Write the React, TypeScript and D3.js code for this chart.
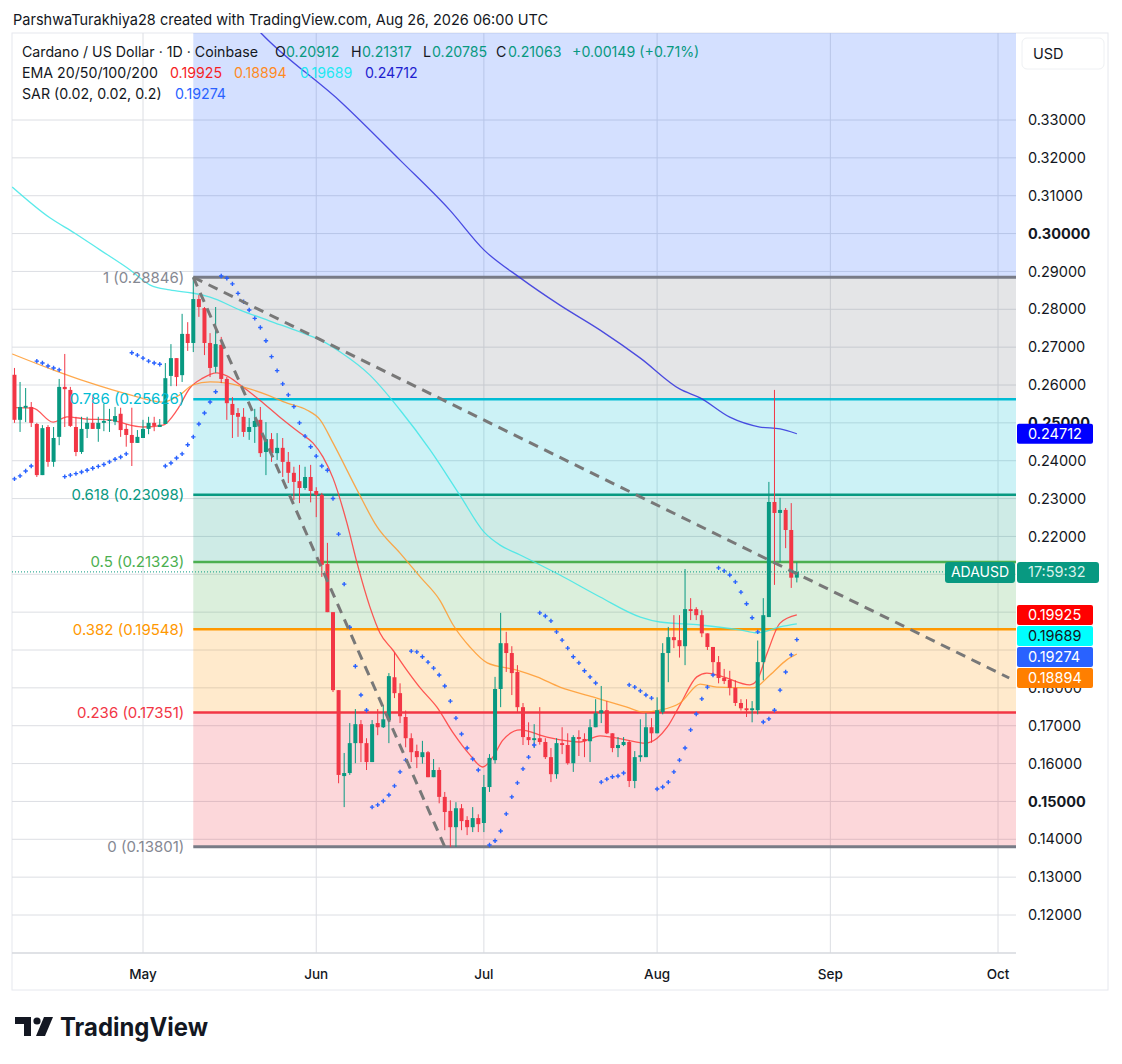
import * as d3 from "d3"
import React from "react"

// daily candles, first one on Apr 8 2026
const startDate = "2026-04-08"
// prettier-ignore
const opens = [
  0.2627, 0.2508, 0.2540, 0.2542, 0.2497, 0.2362, 0.2489, 0.2397, 0.2463, 0.2595,
  0.2587, 0.2489, 0.2423, 0.2484, 0.2500, 0.2484, 0.2500, 0.2505, 0.2503, 0.2524,
  0.2484, 0.2468, 0.2447, 0.2460, 0.2484, 0.2500, 0.2489, 0.2497, 0.2624, 0.2671,
  0.2626, 0.2735, 0.2711, 0.2827, 0.2803, 0.2711, 0.2648, 0.2706, 0.2616, 0.2550,
  0.2526, 0.2516, 0.2476, 0.2489, 0.2508, 0.2423, 0.2457, 0.2420, 0.2434, 0.2397,
  0.2368, 0.2346, 0.2328, 0.2357, 0.2320, 0.2310, 0.2127, 0.2000, 0.1794, 0.1567,
  0.1575, 0.1654, 0.1704, 0.1654, 0.1604, 0.1707, 0.1696, 0.1715, 0.1828, 0.1786,
  0.1723, 0.1667, 0.1633, 0.1617, 0.1630, 0.1564, 0.1583, 0.1512, 0.1475, 0.1432,
  0.1482, 0.1451, 0.1432, 0.1456, 0.1443, 0.1538, 0.1609, 0.1797, 0.1918, 0.1892,
  0.1842, 0.1749, 0.1670, 0.1662, 0.1667, 0.1657, 0.1617, 0.1572, 0.1654, 0.1649,
  0.1601, 0.1670, 0.1665, 0.1659, 0.1696, 0.1733, 0.1741, 0.1680, 0.1641, 0.1649,
  0.1657, 0.1554, 0.1617, 0.1617, 0.1696, 0.1680, 0.1736, 0.1892, 0.1934, 0.1926,
  0.1910, 0.2008, 0.2008, 0.1992, 0.1944, 0.1908, 0.1868, 0.1826, 0.1821, 0.1800,
  0.1760, 0.1746, 0.1741, 0.1741, 0.1868, 0.1987, 0.2291, 0.2262, 0.2270, 0.2217,
  0.20912,
]
// prettier-ignore
const highs = [
  0.2645, 0.2608, 0.2592, 0.2555, 0.2500, 0.2494, 0.2494, 0.2489, 0.2616, 0.2682,
  0.2595, 0.2516, 0.2516, 0.2516, 0.2574, 0.2516, 0.2550, 0.2537, 0.2542, 0.2540,
  0.2497, 0.2540, 0.2481, 0.2508, 0.2516, 0.2516, 0.2510, 0.2658, 0.2708, 0.2671,
  0.2788, 0.2766, 0.28846, 0.2838, 0.2806, 0.2737, 0.2806, 0.2727, 0.2621, 0.2568,
  0.2539, 0.2539, 0.2513, 0.2537, 0.2542, 0.2502, 0.2473, 0.2473, 0.2460, 0.2423,
  0.2384, 0.2389, 0.2384, 0.2389, 0.2330, 0.2315, 0.2183, 0.2000, 0.1794, 0.1628,
  0.1707, 0.1744, 0.1715, 0.1667, 0.1715, 0.1744, 0.1754, 0.1839, 0.1894, 0.1812,
  0.1740, 0.1680, 0.1650, 0.1660, 0.1633, 0.1612, 0.1590, 0.1525, 0.1503, 0.1498,
  0.1493, 0.1461, 0.1485, 0.1466, 0.1570, 0.1625, 0.1829, 0.1998, 0.1948, 0.1910,
  0.1860, 0.1760, 0.1709, 0.1704, 0.1749, 0.1667, 0.1641, 0.1667, 0.1696, 0.1680,
  0.1675, 0.1688, 0.1680, 0.1717, 0.1770, 0.1805, 0.1765, 0.1680, 0.1670, 0.1670,
  0.1662, 0.1633, 0.1717, 0.1733, 0.1720, 0.1775, 0.1918, 0.1961, 0.1992, 0.1992,
  0.2114, 0.2037, 0.2013, 0.2005, 0.1944, 0.1908, 0.1884, 0.1850, 0.1845, 0.1820,
  0.1770, 0.1770, 0.1765, 0.1925, 0.2037, 0.2344, 0.2587, 0.2302, 0.2275, 0.2288,
  0.21317,
]
// prettier-ignore
const lows = [
  0.2500, 0.2476, 0.2502, 0.2489, 0.2357, 0.2362, 0.2384, 0.2384, 0.2441, 0.2489,
  0.2489, 0.2412, 0.2418, 0.2460, 0.2484, 0.2450, 0.2478, 0.2476, 0.2494, 0.2463,
  0.2437, 0.2386, 0.2447, 0.2460, 0.2470, 0.2478, 0.2489, 0.2497, 0.2597, 0.2597,
  0.2608, 0.2690, 0.2687, 0.2780, 0.2679, 0.2621, 0.2632, 0.2605, 0.2508, 0.2460,
  0.2463, 0.2463, 0.2455, 0.2447, 0.2410, 0.2362, 0.2397, 0.2402, 0.2357, 0.2341,
  0.2296, 0.2288, 0.2323, 0.2290, 0.2251, 0.2093, 0.2000, 0.1789, 0.1548, 0.1485,
  0.1570, 0.1601, 0.1604, 0.1583, 0.1604, 0.1675, 0.1694, 0.1654, 0.1773, 0.1707,
  0.1643, 0.1604, 0.1588, 0.1600, 0.1564, 0.1564, 0.1495, 0.1424, 0.1380, 0.1380,
  0.1424, 0.1411, 0.1419, 0.1419, 0.1419, 0.1525, 0.1600, 0.1749, 0.1842, 0.1781,
  0.1736, 0.1649, 0.1649, 0.1641, 0.1650, 0.1612, 0.1551, 0.1560, 0.1625, 0.1597,
  0.1578, 0.1620, 0.1617, 0.1604, 0.1696, 0.1707, 0.1678, 0.1630, 0.1617, 0.1646,
  0.1538, 0.1535, 0.1605, 0.1617, 0.1655, 0.1680, 0.1730, 0.1815, 0.1905, 0.1880,
  0.1860, 0.1979, 0.1979, 0.1934, 0.1900, 0.1839, 0.1812, 0.1810, 0.1780, 0.1752,
  0.1740, 0.1723, 0.1709, 0.1730, 0.1820, 0.1987, 0.2072, 0.2132, 0.2169, 0.2064,
  0.20785,
]
// prettier-ignore
const closes = [
  0.2508, 0.2542, 0.2545, 0.2500, 0.2362, 0.2486, 0.2397, 0.2460, 0.2595, 0.2589,
  0.2492, 0.2423, 0.2484, 0.2500, 0.2484, 0.2500, 0.2505, 0.2508, 0.2518, 0.2481,
  0.2468, 0.2447, 0.2463, 0.2484, 0.2500, 0.2492, 0.2495, 0.2618, 0.2671, 0.2621,
  0.2735, 0.2711, 0.2827, 0.2806, 0.2711, 0.2645, 0.2708, 0.2616, 0.2552, 0.2521,
  0.2516, 0.2476, 0.2489, 0.2505, 0.2420, 0.2457, 0.2420, 0.2434, 0.2397, 0.2368,
  0.2344, 0.2328, 0.2357, 0.2320, 0.2310, 0.2125, 0.2000, 0.1794, 0.1570, 0.1575,
  0.1654, 0.1704, 0.1654, 0.1604, 0.1704, 0.1696, 0.1717, 0.1831, 0.1786, 0.1725,
  0.1667, 0.1630, 0.1617, 0.1630, 0.1564, 0.1583, 0.1512, 0.1472, 0.1432, 0.1482,
  0.1448, 0.1432, 0.1456, 0.1440, 0.1538, 0.1615, 0.1797, 0.1918, 0.1892, 0.1839,
  0.1749, 0.1670, 0.1662, 0.1667, 0.1657, 0.1617, 0.1572, 0.1654, 0.1649, 0.1601,
  0.1670, 0.1665, 0.1659, 0.1696, 0.1733, 0.1741, 0.1680, 0.1641, 0.1649, 0.1657,
  0.1554, 0.1617, 0.1622, 0.1696, 0.1680, 0.1741, 0.1892, 0.1934, 0.1926, 0.1910,
  0.2008, 0.2003, 0.1992, 0.1944, 0.1908, 0.1868, 0.1826, 0.1818, 0.1800, 0.1760,
  0.1746, 0.1741, 0.1746, 0.1868, 0.1992, 0.2291, 0.2262, 0.2270, 0.2217, 0.2091,
  0.21063,
]
// parabolic SAR, one per candle (null = no dot)
// prettier-ignore
const sar = [
  0.2352, 0.2360, 0.2373, 0.2386, 0.2663, 0.2658, 0.2650, 0.2645, 0.2640, 0.2358,
  0.2362, 0.2366, 0.2370, 0.2375, 0.2380, 0.2385, 0.2390, 0.2397, 0.2404, 0.2410,
  0.2418, 0.2685, 0.2679, 0.2671, 0.2663, 0.2658, 0.2655, 0.2386, 0.2394, 0.2407,
  0.2418, 0.2442, 0.2463, 0.2497, 0.2526, 0.2555, 0.2582, 0.2888, 0.2882, 0.2867,
  0.2842, 0.2820, 0.2798, 0.2776, 0.2752, 0.2717, 0.2675, 0.2638, 0.2603, 0.2574,
  0.2543, 0.2500, 0.2465, 0.2437, 0.2412, 0.2386, 0.2375, 0.2300, 0.2206, 0.2074,
  0.1960, 0.1857, 0.1781, 0.1741, 0.1485, 0.1491, 0.1501, 0.1517, 0.1541, 0.1578,
  0.1609, 0.1897, 0.1895, 0.1882, 0.1868, 0.1852, 0.1834, 0.1805, 0.1765, 0.1720,
  0.1678, 0.1641, 0.1612, 0.1583, null, 0.1385, 0.1396, 0.1422, 0.1467, 0.1512,
  0.1549, 0.1586, 0.1617, 0.1649, 0.1998, 0.1990, 0.1977, 0.1948, 0.1926, 0.1905,
  0.1882, 0.1866, 0.1845, 0.1829, 0.1813, 0.1551, 0.1559, 0.1565, 0.1567, 0.1575,
  0.1808, 0.1802, 0.1792, 0.1781, 0.1773, 0.1533, 0.1538, 0.1551, 0.1578, 0.1609,
  0.1641, 0.1689, 0.1731, 0.1771, 0.1802, 0.1834, 0.2117, 0.2109, 0.2098, 0.2080,
  0.2053, 0.2022, 0.1985, 0.1948, 0.1710, 0.1718, 0.1741, 0.1794, 0.1842, 0.1887,
  0.19274,
]

// EMA readings: day offsets from May 1 and values
const ema20Days = [-23, -19.7, -16.1, -13.6, -10, -5.9, -2.3, 0, 3.6, 6.1, 8.4, 10.7, 13.2, 15, 17.4, 20.9, 24.5, 28.1, 30.4, 32.2, 34, 36.5, 38.3, 40.6, 42.4, 44.7, 47.2, 49.6, 52.6, 55.5, 58.5, 60.8, 62.6, 64.4, 67.5, 72.3, 78.2, 81.8, 86.6, 89.8, 92, 93.8, 96.1, 99.1, 100.9, 103.8, 108.6, 109.9, 111.7, 114, 117]
const ema20 = [0.2540, 0.2539, 0.2502, 0.2516, 0.2510, 0.2508, 0.2494, 0.2489, 0.2494, 0.2534, 0.2592, 0.2618, 0.2632, 0.2624, 0.2600, 0.2560, 0.2515, 0.2473, 0.2447, 0.2410, 0.2354, 0.2235, 0.2130, 0.2014, 0.1945, 0.1900, 0.1847, 0.1800, 0.1749, 0.1681, 0.1623, 0.1591, 0.1617, 0.1662, 0.1689, 0.1670, 0.1657, 0.1673, 0.1662, 0.1654, 0.1667, 0.1696, 0.1755, 0.1829, 0.1839, 0.1829, 0.1808, 0.1821, 0.1892, 0.1971, 0.19925]
const ema50Days = [-23.4, -16.1, -10, -2.3, 3.6, 6.6, 8.9, 12, 15, 18.6, 22.2, 25.8, 29.3, 31.7, 34, 38.3, 41.9, 46, 49.6, 53.1, 55.5, 58.5, 61.6, 66.9, 70.5, 74.6, 80.5, 86.6, 89.5, 92.5, 96.1, 99.7, 102.7, 109.2, 112.2, 115.2, 117]
const ema50 = [0.2682, 0.2640, 0.2608, 0.2574, 0.2555, 0.2574, 0.2600, 0.2608, 0.2605, 0.2592, 0.2574, 0.2552, 0.2534, 0.2508, 0.2447, 0.2323, 0.2225, 0.2156, 0.2093, 0.2032, 0.1966, 0.1908, 0.1866, 0.1847, 0.1829, 0.1802, 0.1776, 0.1749, 0.1736, 0.1741, 0.1760, 0.1810, 0.1802, 0.1800, 0.1834, 0.1874, 0.18894]
const ema100Days = [-23.4, -16.6, -12.2, -7.7, -2.3, 1.3, 4.8, 8.8, 12, 17.4, 22.7, 28.1, 31.7, 35.3, 40.6, 46, 51.4, 56.7, 61, 63.9, 67.5, 74.6, 81.8, 89, 92.5, 99.7, 106.8, 109.9, 114, 117]
const ema100 = [0.3123, 0.3041, 0.3001, 0.2957, 0.2904, 0.2864, 0.2851, 0.2843, 0.2832, 0.2798, 0.2769, 0.2740, 0.2719, 0.2687, 0.2626, 0.2534, 0.2428, 0.2309, 0.2212, 0.2177, 0.2151, 0.2098, 0.2040, 0.1987, 0.1974, 0.1966, 0.1953, 0.1945, 0.1961, 0.19689]
const ema200Days = [18, 21.1, 35.6, 46, 54.9, 61, 67.5, 74.6, 81.8, 89, 96.1, 99.7, 105, 110.4, 114, 117]
const ema200 = [0.3580, 0.3530, 0.3345, 0.3194, 0.3062, 0.2957, 0.2883, 0.2811, 0.2745, 0.2671, 0.2589, 0.2566, 0.2515, 0.2489, 0.2484, 0.24712]

// fibonacci retracement anchored on the May 10 high
const fibStart = "2026-05-10"
const fibRatios = ["1", "0.786", "0.618", "0.5", "0.382", "0.236", "0"]
const fibPrices = [0.28846, 0.25626, 0.23098, 0.21323, 0.19548, 0.17351, 0.13801]
const fibColors = ["#787b86", "#00bcd4", "#089981", "#4caf50", "#ff9800", "#f23645", "#787b86"]
const fibTopColor = "#2962ff"

// dashed trend lines [start date, start price, end date, end price]
const trendA = ["2026-05-10", 0.28846, "2026-10-03", 0.1826] as const
const trendB = ["2026-05-10", 0.28846, "2026-06-24", 0.13801] as const

const boldTicks = [0.15, 0.2, 0.25, 0.3]
const stackedLabels = [0.19925, 0.19689, 0.19274, 0.18894]
const stackedColors = ["#ff0000", "#00ffff", "#2962ff", "#ff7f00"]
const stackedText = ["#ffffff", "#131722", "#ffffff", "#ffffff"]

const UP = "#089981"
const DOWN = "#f23645"
const FONT = "Inter, 'Noto Sans', sans-serif"

const L = 12,
  R = 1016,
  T = 33,
  B = 953

function App() {
  const parse = d3.utcParse("%Y-%m-%d")
  const may1 = parse("2026-05-01") as Date
  const first = parse(startDate) as Date
  const x = d3
    .scaleUtc()
    .domain([may1, parse("2026-10-01") as Date])
    .range([143, 998])
  const y = d3.scaleLinear().domain([0.12, 0.33]).range([915, 120])
  const xd = (d: number) => x(new Date(+may1 + d * 864e5))

  const candles = opens.map((o, i) => ({
    t: d3.utcDay.offset(first, i),
    o,
    h: highs[i],
    l: lows[i],
    c: closes[i],
    s: sar[i],
  }))

  const line = d3
    .line<[number, number]>()
    .x((p) => xd(p[0]))
    .y((p) => y(p[1]))
    .curve(d3.curveMonotoneX)

  const emas = [
    { days: ema20Days, vals: ema20, color: "#ff3b3b" },
    { days: ema50Days, vals: ema50, color: "#ff9a2e" },
    { days: ema100Days, vals: ema100, color: "#3ee6e6" },
    { days: ema200Days, vals: ema200, color: "#3030dd" },
  ]

  const fx = x(parse(fibStart) as Date)
  const monthTicks = x.ticks(d3.utcMonth.every(1) as any)
  const fmt = d3.format(".5f")

  let prev = -Infinity
  const stackedY = stackedLabels.map((v) => {
    const c = Math.max(y(v), prev + 21)
    prev = c
    return c
  })

  const last = candles[candles.length - 1]
  const e200 = ema200[ema200.length - 1]

  // axis labels that sit fully under a badge are not visible
  const badgeY = [y(e200), y(last.c), ...stackedY]
  const gridTicks = y.ticks(21)
  const priceTicks = gridTicks.filter((v) => badgeY.every((b) => Math.abs(b - y(v)) > 8))

  return (
    <svg
      width={1122}
      height={1064}
      style={{ position: "absolute", left: 0, top: 0, background: "#fff" }}
      fontFamily={FONT}
    >
      <defs>
        <clipPath id="plot">
          <rect x={L} y={T} width={R - L} height={B - T} />
        </clipPath>
      </defs>

      <text x={13} y={25} fontSize={15} fill="#131722" textLength={535} lengthAdjust="spacingAndGlyphs">
        ParshwaTurakhiya28 created with TradingView.com, Aug 26, 2026 06:00 UTC
      </text>

      {/* frame */}
      <rect x={L} y={T} width={1108 - L} height={990 - T} fill="none" stroke="#e6e8ee" />

      <g clipPath="url(#plot)">
        {/* grid */}
        {gridTicks.map((v) => (
          <line key={v} x1={L} x2={R} y1={y(v)} y2={y(v)} stroke="#dcdee3" />
        ))}
        {monthTicks.map((t) => (
          <line key={+t} x1={x(t)} x2={x(t)} y1={T} y2={B} stroke="#dcdee3" />
        ))}

        {/* fib bands */}
        <rect x={fx} y={T} width={R - fx} height={y(fibPrices[0]) - T} fill={fibTopColor} fillOpacity={0.2} />
        {fibPrices.slice(1).map((p, i) => (
          <rect
            key={p}
            x={fx}
            y={y(fibPrices[i])}
            width={R - fx}
            height={y(p) - y(fibPrices[i])}
            fill={fibColors[i]}
            fillOpacity={0.2}
          />
        ))}
        {fibPrices.map((p, i) => (
          <line
            key={p}
            x1={fx}
            x2={R}
            y1={y(p)}
            y2={y(p)}
            stroke={fibColors[i]}
            strokeWidth={i === 0 || i === 6 ? 3 : 2.5}
          />
        ))}

        {/* EMAs */}
        {emas.map((e) => (
          <path
            key={e.color}
            d={line(e.days.map((d, i) => [d, e.vals[i]] as [number, number])) as string}
            fill="none"
            stroke={e.color}
            strokeWidth={1.3}
            strokeOpacity={0.85}
          />
        ))}

        {/* candles */}
        {candles.map((k) => {
          const cx = x(k.t)
          const col = k.c >= k.o ? UP : DOWN
          const top = y(Math.max(k.o, k.c))
          const h = Math.max(1, Math.abs(y(k.o) - y(k.c)))
          return (
            <g key={+k.t}>
              <line x1={cx} x2={cx} y1={y(k.h)} y2={y(k.l)} stroke={col} strokeWidth={1} />
              <rect x={cx - 2} y={top} width={4} height={h} fill={col} />
            </g>
          )
        })}

        {/* SAR */}
        {candles
          .filter((k) => k.s != null)
          .map((k) => {
            const cx = x(k.t)
            const cy = y(k.s as number)
            return (
              <path
                key={+k.t}
                d={`M${cx - 2.2},${cy}H${cx + 2.2}M${cx},${cy - 2.2}V${cy + 2.2}`}
                stroke="#2962ff"
                strokeWidth={1.4}
              />
            )
          })}

        {/* dashed trend lines */}
        {[trendA, trendB].map((t, i) => (
          <line
            key={i}
            x1={x(parse(t[0]) as Date)}
            y1={y(t[1])}
            x2={x(parse(t[2]) as Date)}
            y2={y(t[3])}
            stroke="#787878"
            strokeWidth={3}
            strokeDasharray="10 7"
          />
        ))}

        {/* last price line */}
        <line x1={L} x2={R} y1={y(last.c)} y2={y(last.c)} stroke={UP} strokeDasharray="1 2" />
      </g>

      {/* fib labels */}
      {fibPrices.map((p, i) => (
        <text
          key={p}
          x={fx - 9}
          y={y(p)}
          dy="0.35em"
          textAnchor="end"
          fontSize={15}
          fill={i === 0 || i === 6 ? "#858892" : fibColors[i]}
        >
          {`${fibRatios[i]} (${fmt(p)})`}
        </text>
      ))}

      {/* legend */}
      <g fontSize={14.2} fill="#131722">
        <text y={57}>
          <tspan x={22}>Cardano / US Dollar · 1D · Coinbase</tspan>
          <tspan x={275}>O</tspan>
          <tspan x={286} fill={UP}>{fmt(last.o)}</tspan>
          <tspan x={351}>H</tspan>
          <tspan x={362} fill={UP}>{fmt(last.h)}</tspan>
          <tspan x={423}>L</tspan>
          <tspan x={432} fill={UP}>{fmt(last.l)}</tspan>
          <tspan x={496}>C</tspan>
          <tspan x={508} fill={UP}>{fmt(last.c)}</tspan>
          <tspan x={572} fill={UP}>+0.00149 (+0.71%)</tspan>
        </text>
        <text y={78}>
          <tspan x={22}>EMA 20/50/100/200</tspan>
          <tspan x={170} fill="#f51f1f">{fmt(ema20[ema20.length - 1])}</tspan>
          <tspan x={234} fill="#ff8a1f">{fmt(ema50[ema50.length - 1])}</tspan>
          <tspan x={300} fill="#22e8f2">{fmt(ema100[ema100.length - 1])}</tspan>
          <tspan x={365} fill="#1f1fcf">{fmt(e200)}</tspan>
        </text>
        <text y={99}>
          <tspan x={22}>SAR (0.02, 0.02, 0.2)</tspan>
          <tspan x={175} fill="#2962ff">{fmt(last.s as number)}</tspan>
        </text>
      </g>

      {/* price axis */}
      <rect x={1022} y={38} width={82} height={31} rx={5} fill="#fff" stroke="#eef0f3" />
      <text x={1033} y={54} dy="0.35em" fontSize={14.5} fill="#131722">
        USD
      </text>
      {priceTicks.map((v) => (
        <text
          key={v}
          x={1028}
          y={y(v)}
          dy="0.35em"
          fontSize={14.5}
          fill="#131722"
          fontWeight={boldTicks.some((b) => Math.abs(b - v) < 1e-9) ? 700 : 400}
        >
          {fmt(v)}
        </text>
      ))}

      {/* EMA200 badge */}
      <rect x={1017} y={y(e200) - 10} width={76} height={20} rx={2} fill="#0000ff" />
      <text x={1028} y={y(e200)} dy="0.35em" fontSize={14.5} fill="#fff">
        {fmt(e200)}
      </text>

      {/* last price badges */}
      <rect x={945} y={y(last.c) - 10} width={70} height={21} rx={3} fill={UP} />
      <text x={980} y={y(last.c)} dy="0.37em" textAnchor="middle" fontSize={14} fill="#fff">
        ADAUSD
      </text>
      <rect x={1017} y={y(last.c) - 10} width={82} height={21} rx={3} fill={UP} />
      <text x={1028} y={y(last.c)} dy="0.37em" fontSize={14.5} fill="#d9f2ec">
        17:59:32
      </text>

      {stackedLabels.map((v, i) => (
        <g key={v}>
          <rect x={1017} y={stackedY[i] - 10} width={76} height={20} rx={2} fill={stackedColors[i]} />
          <text x={1028} y={stackedY[i]} dy="0.35em" fontSize={14.5} fill={stackedText[i]}>
            {fmt(v)}
          </text>
        </g>
      ))}

      {/* time axis */}
      <line x1={L} x2={R} y1={B} y2={B} stroke="#d6d8de" strokeWidth={1.5} />
      {monthTicks.map((t) => (
        <text
          key={+t}
          x={x(t)}
          y={974}
          dy="0.35em"
          textAnchor="middle"
          fontSize={13.5}
          fontWeight={500}
          fill="#131722"
        >
          {d3.utcFormat("%b")(t)}
        </text>
      ))}

      {/* logo */}
      <g fill="#131722">
        <path d="M15,1017H31V1036H24V1024H15Z" />
        <circle cx={37} cy={1021} r={3.6} />
        <path d="M44,1017H53L45,1036H36Z" />
        <text
          x={60}
          y={1027}
          dy="0.36em"
          fontSize={25}
          fontWeight={700}
          textLength={148}
          lengthAdjust="spacingAndGlyphs"
        >
          TradingView
        </text>
      </g>
    </svg>
  )
}

export default App
